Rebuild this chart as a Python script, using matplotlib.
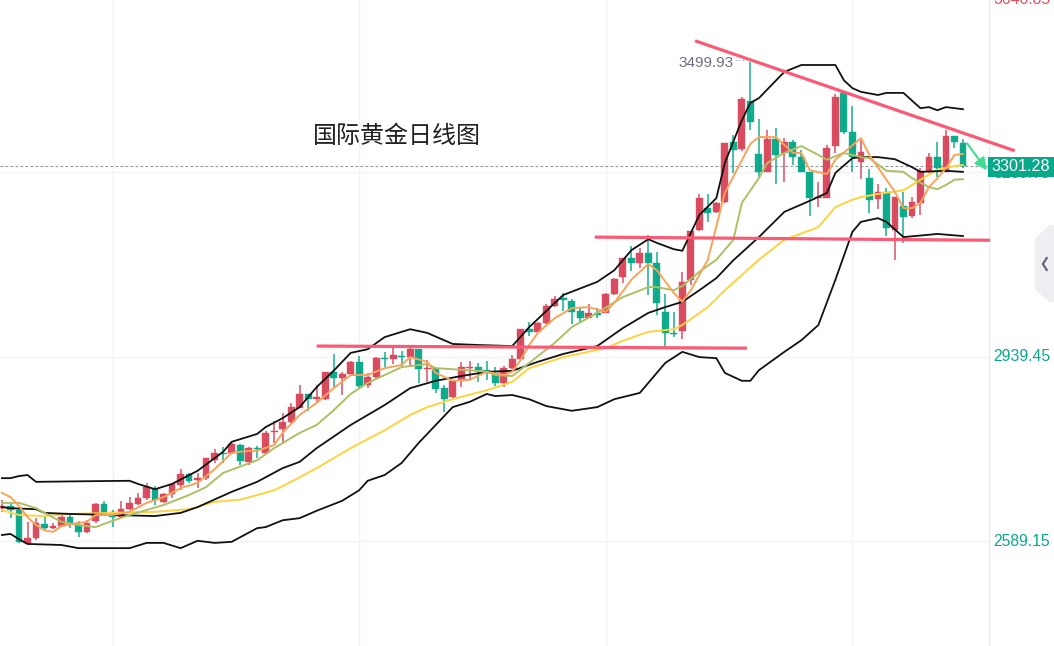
import matplotlib
matplotlib.use("Agg")
import matplotlib.pyplot as plt
from matplotlib.patches import Polygon, Rectangle

plt.rcParams['font.family'] = ['Noto Sans CJK SC', 'DejaVu Sans']

title = "国际黄金日线图"
opens = [2652,2656,2648,2586,2595,2622,2614,2618,2635,2620,2607,2628,2660,2645,2635,2650,2660,2671,2688,2664,
         2679,2696,2717,2705,2709,2743,2757,2757,2772,2740,2766,2757,2797,2802,2816,2842,2869,2859,2859,2911,
         2899,2907,2930,2886,2901,2937,2935,2941,2939,2954,2916,2918,2880,2863,2895,2918,2920,2914,2909,2890,
         2918,2935,2992,2987,3004,3036,3051,3046,3027,3013,3023,3023,3059,3091,3127,3118,3137,3118,3025,2985,
         2989,3086,3180,3222,3215,3234,3348,3334,3426,3325,3291,3353,3327,3348,3319,3291,3241,3241,3340,3441,
         3367,3310,3279,3239,3253,3180,3226,3207,3232,3293,3319,3291,3359,3346]
closes = [2656,2648,2588,2595,2624,2614,2618,2635,2624,2607,2624,2660,2643,2635,2650,2662,2671,2692,2667,2679,
          2698,2717,2704,2709,2747,2757,2755,2774,2742,2766,2764,2795,2799,2816,2844,2869,2859,2863,2911,2899,
          2907,2930,2884,2901,2937,2935,2943,2939,2954,2916,2918,2878,2859,2894,2920,2920,2914,2913,2890,2918,
          2935,2992,2987,3004,3036,3049,3047,3025,3013,3023,3019,3059,3087,3127,3118,3137,3118,3042,2985,2983,
          3082,3179,3241,3213,3232,3346,3333,3429,3386,3291,3353,3323,3348,3319,3291,3241,3243,3336,3433,3367,
          3319,3329,3237,3253,3184,3243,3205,3234,3293,3319,3298,3359,3348,3301.28]
highs = [2668,2662,2652,2626,2633,2635,2624,2639,2639,2628,2630,2662,2666,2648,2666,2673,2681,2700,2694,2681,
         2700,2726,2719,2719,2747,2764,2768,2776,2774,2768,2770,2799,2818,2833,2852,2886,2869,2886,2911,2945,
         2911,2932,2941,2909,2939,2949,2956,2951,2958,2954,2933,2918,2886,2894,2930,2932,2928,2932,2920,2922,
         2943,2992,3006,3006,3040,3055,3061,3049,3032,3040,3032,3061,3089,3127,3150,3146,3171,3139,3059,3025,
         3101,3179,3249,3249,3234,3346,3361,3433,3499.93,3391,3370,3374,3355,3351,3333,3291,3272,3342,3439,3443,
         3416,3352,3296,3268,3260,3243,3253,3243,3298,3327,3348,3370,3359,3353]
lows = [2645,2633,2586,2584,2591,2610,2612,2616,2614,2597,2605,2624,2639,2616,2633,2648,2658,2667,2658,2662,
        2671,2686,2700,2690,2705,2738,2738,2755,2734,2734,2747,2757,2776,2774,2812,2842,2837,2854,2857,2882,
        2867,2905,2878,2880,2897,2920,2926,2918,2924,2890,2892,2871,2835,2861,2882,2895,2892,2895,2884,2882,
        2916,2935,2979,2985,3002,3034,3027,3002,3004,3013,3013,3023,3057,3080,3103,3108,3057,3019,2960,2977,
        2973,3076,3179,3196,3213,3232,3289,3331,3370,3281,3291,3268,3272,3304,3291,3207,3224,3241,3327,3363,
        3291,3277,3213,3220,3169,3123,3156,3203,3209,3289,3281,3291,3336,3298]

boll_upper_idx = [0,1,2,3,4,9,15,16,18,20,23,26,27,30,31,33,35,37,39,41,43,45,48,50,53,56,60,62,66,70,72,74,76,77,79,80,81,82,84,85,87,88,89,92,94,98,99,100,101,103,104,106,108,109,110,111,113]
boll_upper = [2709,2709,2713,2715,2702,2703,2704,2698,2688,2698,2723,2759,2778,2793,2806,2823,2844,2882,2913,2947,2954,2977,2992,2985,2964,2962,2960,2996,3057,3082,3104,3142,3163,3156,3144,3141,3175,3209,3241,3308,3389,3422,3431,3481,3494,3494,3465,3450,3443,3437,3441,3441,3412,3414,3408,3414,3410]
boll_mid_idx = [0,1,4,5,8,13,18,21,23,27,30,33,35,37,41,45,48,51,54,57,60,63,66,70,73,76,78,80,82,84,86,89,92,95,97,98,100,101,103,105,107,108,111,113]
boll_mid = [2654,2652,2650,2643,2641,2639,2637,2643,2654,2683,2702,2728,2740,2766,2810,2848,2880,2894,2903,2911,2913,2930,2945,2960,2994,3023,3034,3044,3066,3089,3123,3167,3215,3236,3251,3289,3317,3319,3319,3315,3300,3291,3293,3291]
boll_lower_idx = [0,1,2,3,7,9,15,17,19,21,23,25,27,30,31,33,35,37,40,42,43,45,47,49,51,53,55,57,58,60,62,64,67,70,72,75,78,80,82,84,85,87,88,89,92,94,96,98,100,101,103,104,106,110,113]
boll_lower = [2601,2603,2593,2584,2582,2576,2576,2586,2586,2576,2590,2586,2588,2614,2616,2629,2633,2647,2666,2686,2704,2715,2738,2776,2810,2844,2854,2869,2865,2867,2859,2846,2837,2844,2859,2871,2928,2949,2939,2937,2909,2894,2894,2914,2949,2971,3000,3086,3177,3196,3203,3196,3167,3173,3169]
ma5_idx = [0,1,2,3,4,5,6,7,9,10,11,13,15,17,19,21,23,25,27,29,30,32,33,35,37,39,41,43,45,47,48,50,51,53,55,57,59,60,61,62,63,65,67,69,71,72,74,76,77,79,80,81,83,85,88,89,91,93,94,95,97,98,101,102,104,105,106,107,108,109,110,111,112,113]
ma5 = [2681,2673,2656,2635,2620,2610,2607,2618,2624,2626,2639,2639,2645,2662,2673,2690,2700,2726,2757,2761,2761,2772,2795,2829,2852,2880,2905,2905,2918,2924,2939,2930,2909,2894,2896,2911,2905,2911,2934,2962,2985,3013,3032,3034,3025,3042,3086,3116,3104,3061,3044,3066,3124,3251,3344,3357,3357,3327,3327,3294,3287,3314,3355,3323,3276,3253,3222,3222,3232,3262,3279,3298,3323,3325]
ma10_idx = [0,2,4,5,7,9,11,13,15,19,22,24,26,30,32,35,37,39,41,43,45,47,50,51,55,57,58,60,62,65,67,70,73,76,77,79,80,82,84,86,87,89,90,92,94,96,97,99,101,102,104,106,107,109,110,111,112,113]
ma10 = [2662,2662,2652,2643,2626,2620,2616,2628,2639,2658,2677,2692,2719,2743,2766,2795,2810,2838,2869,2890,2905,2920,2926,2918,2914,2911,2905,2903,2928,2966,2996,3023,3053,3072,3072,3066,3074,3101,3124,3162,3232,3279,3308,3327,3340,3323,3314,3327,3319,3317,3293,3291,3279,3262,3258,3266,3276,3277]
ma30_idx = [0,2,5,8,13,18,22,25,28,30,32,34,37,41,45,48,50,53,57,60,62,66,71,73,76,79,80,83,85,89,92,96,98,100,101,103,106,108,110,112,113]
ma30 = [2648,2639,2637,2641,2643,2645,2650,2664,2668,2677,2686,2702,2728,2766,2800,2829,2844,2859,2876,2892,2918,2939,2956,2970,2987,2992,3000,3034,3066,3124,3162,3186,3224,3238,3243,3249,3256,3276,3295,3302,3304]

trend_a_idx, trend_a_price = [81.5, 119.1], [3540, 3331]
trend_b_idx, trend_b_price = [69.7, 116.2], [3167, 3161]
trend_c_idx, trend_c_price = [37.0, 87.6], [2960, 2956]

grid_prices = [3290.7, 2939.45, 2589.15]
grid_candles = [13, 42, 71, 100]
axis_labels = ["3289.75", "2939.45", "2589.15"]
top_label = "3640.85"
last_price = 3301.28
peak_price = 3499.93

RED, GREEN = "#d9485c", "#0aa88a"
W, H = 1054, 646
STEP = 8.504
fig = plt.figure(figsize=(W/100, H/100), dpi=100)
ax = fig.add_axes([0, 0, 1, 1])
ax.set_xlim(-2/STEP, (W-2)/STEP)
ax.set_ylim(3617.5-1.9*H, 3617.5)
ax.axis("off")
axis_x = 116.06
label_x = 116.53

for g in grid_candles:
    ax.axvline(g, color="#f2f3f7", lw=1, zorder=1)
ax.axvline(axis_x, color="#eaebef", lw=1, zorder=1)
ax.hlines(grid_prices, ax.get_xlim()[0], axis_x, color="#f2f3f7", lw=1, zorder=1)

ax.axhline(last_price, xmax=(axis_x-ax.get_xlim()[0])/(ax.get_xlim()[1]-ax.get_xlim()[0]),
           color="#8a9a98", lw=0.8, ls=(0, (2.5, 2)), zorder=1.5)

for i, (o, c, h, l) in enumerate(zip(opens, closes, highs, lows)):
    col = RED if c >= o else GREEN
    ax.vlines(i, l, h, color=col, lw=1.3, alpha=0.8, zorder=2)
    ax.bar(i, max(abs(c-o), 2.4), bottom=min(o, c), width=0.8, color=col,
           edgecolor=col, lw=0.3, alpha=0.97, zorder=2.1)

line_kw = dict(solid_joinstyle="round", zorder=3)
ax.plot(ma30_idx, ma30, color="#fdd33f", lw=1.4, **line_kw)
ax.plot(boll_lower_idx, boll_lower, color="#111111", lw=1.3, **line_kw)
ax.plot(boll_upper_idx, boll_upper, color="#111111", lw=1.3, **line_kw)
ax.plot(boll_mid_idx, boll_mid, color="#111111", lw=1.3, **line_kw)
ax.plot(ma10_idx, ma10, color="#aebf63", lw=1.4, **line_kw)
ax.plot(ma5_idx, ma5, color="#f9a25a", lw=1.4, **line_kw)

for xs, ys in [(trend_a_idx, trend_a_price), (trend_b_idx, trend_b_price), (trend_c_idx, trend_c_price)]:
    ax.plot(xs, ys, color="#fb5a74", lw=2.3, solid_capstyle="butt", zorder=4)

ax.annotate("", xy=(115.8, 3294), xytext=(113.5, 3345),
            arrowprops=dict(arrowstyle="-|>", color="#3fdc8e", lw=1.5, mutation_scale=18,
                            shrinkA=0, shrinkB=0), zorder=5)

ax.text(313/STEP - 2/STEP, 3617.5-1.9*136, title, fontsize=17.3, color="#222222",
        va="center", ha="left", family=['Noto Sans CJK SC', 'DejaVu Sans'])
ax.text(86.0, peak_price-2, f"{peak_price:.2f}", fontsize=11, color="#6d7180", ha="right", va="center",
        family="Liberation Sans")
ax.text(86.2, peak_price+1, "···", fontsize=8, color="#6d7180", ha="left", va="center",
        family="Liberation Sans")

ax.text(label_x, 3287, axis_labels[0], fontsize=11.3, color=GREEN, ha="left", va="center", family="Liberation Sans")
for p, lab in zip(grid_prices[1:], axis_labels[1:]):
    ax.text(label_x, p, lab, fontsize=11.3, color=GREEN, ha="left", va="center", family="Liberation Sans")
ax.text(label_x, 3617.5, top_label, fontsize=11.3, color="#e0505f", ha="left", va="center",
        family="Liberation Sans", clip_on=True)

ax.add_patch(Rectangle((115.9, last_price-20), 8.0, 38, color=GREEN, zorder=6, lw=0))
ax.text(119.85, last_price-1, f"{last_price:.2f}", fontsize=11.6, color="white", ha="center", va="center",
        family="Liberation Sans", zorder=7)

ax.add_patch(Polygon([(121.5, 3617.5-1.9*238), (123.2, 3617.5-1.9*225), (124.2, 3617.5-1.9*225),
                      (124.2, 3617.5-1.9*302), (123.2, 3617.5-1.9*302), (121.5, 3617.5-1.9*290)],
                     closed=True, color="#eeeef3", lw=0, zorder=1.2))
ax.plot([122.85, 122.4, 122.85], [3617.5-1.9*258, 3617.5-1.9*264, 3617.5-1.9*270], color="#666a78", lw=1.6, zorder=2)

fig.savefig("out.png", dpi=100, facecolor="white")
